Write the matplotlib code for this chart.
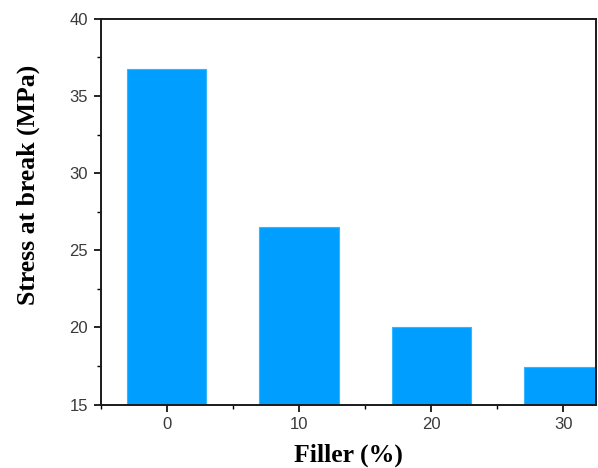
import matplotlib.pyplot as plt
from matplotlib.ticker import MultipleLocator

filler = [0, 10, 20, 30]
stress = [36.75, 26.5, 20.05, 17.45]

fig = plt.figure(figsize=(5.98, 4.68), dpi=100)
ax = fig.add_axes([0.1684, 0.1353, 0.8278, 0.8247])

ax.bar(filler, stress, width=6, bottom=0, color='#009fff', edgecolor='#33b5ff', linewidth=0.8, zorder=2)

ax.set_xlim(-5, 32.45)
ax.set_ylim(15, 40)
ax.xaxis.set_major_locator(MultipleLocator(10))
ax.xaxis.set_minor_locator(MultipleLocator(5))
ax.yaxis.set_major_locator(MultipleLocator(5))
ax.yaxis.set_minor_locator(MultipleLocator(2.5))
ax.tick_params(which='major', direction='out', length=5, width=1.2, labelsize=12,
               labelcolor='#3a3a3a', pad=4)
ax.tick_params(which='minor', direction='out', length=3, width=1.0)
for lab in ax.get_xticklabels() + ax.get_yticklabels():
    lab.set_family('Liberation Sans')
for s in ax.spines.values():
    s.set_linewidth(1.4)
    s.set_color('#1a1a1a')

ax.set_xlabel('Filler (%)', fontsize=18.5, fontweight='bold', family='Liberation Serif', labelpad=8)
ax.set_ylabel('Stress at break (MPa)', fontsize=18.5, fontweight='bold', family='Liberation Serif',
              labelpad=21, y=0.569)

fig.savefig('out.png', dpi=100)
